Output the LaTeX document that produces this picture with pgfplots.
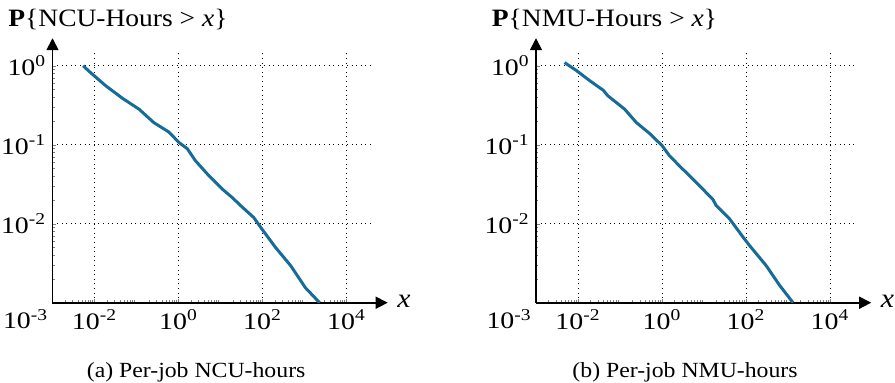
\documentclass[border=0pt]{standalone}
\usepackage{pgfplots}
\pgfplotsset{compat=1.18}
\usepackage{fontspec}
\setmainfont[FakeStretch=1.1]{Liberation Serif}
\newfontfamily\tickfont[FakeStretch=1.18]{Liberation Serif}
\usetikzlibrary{arrows.meta}
\definecolor{cblue}{RGB}{22,108,150}
\pgfplotsset{
  every axis/.append style={
    scale only axis,
    clip mode=individual,
    width=159.6pt, height=126pt,
    xmin=1e-3, xmax=3.98e4,
    ymin=1e-3, ymax=1.55,
    axis lines=left,
    x axis line style={-{Triangle[length=6pt,width=6pt]}, shorten >=-8pt, line width=0.8pt},
    y axis line style={-{Triangle[length=6pt,width=6pt]}, shorten >=-6.25pt, line width=0.8pt},
    tick align=inside,
    major tick length=2pt, minor tick length=1.2pt,
    xtick={1e-2,1,1e2,1e4},
    xticklabels={10\textsuperscript{-2},10\textsuperscript{0},10\textsuperscript{2},10\textsuperscript{4}},
    ytick={1e-2,1e-1,1},
    yticklabels={10\textsuperscript{-2},10\textsuperscript{-1},10\textsuperscript{0}},
    minor xtick={2e-3,3e-3,4e-3,5e-3,6e-3,7e-3,8e-3,9e-3,
                 2e-2,3e-2,4e-2,5e-2,6e-2,7e-2,8e-2,9e-2,
                 0.2,0.3,0.4,0.5,0.6,0.7,0.8,0.9,
                 2,3,4,5,6,7,8,9,
                 20,30,40,50,60,70,80,90,
                 200,300,400,500,600,700,800,900,
                 2000,3000,4000,5000,6000,7000,8000,9000},
    minor ytick={2e-3,3e-3,4e-3,5e-3,6e-3,7e-3,8e-3,9e-3,
                 2e-2,3e-2,4e-2,5e-2,6e-2,7e-2,8e-2,9e-2,
                 0.2,0.3,0.4,0.5,0.6,0.7,0.8,0.9},
    ticklabel style={font=\tickfont\fontsize{11.8}{11.8}\selectfont},
    yticklabel style={inner sep=0pt, xshift=-3pt},
    grid=major,
    grid style={black, line width=0.5pt, dash pattern=on 0.5pt off 1.8pt},
    xlabel={\textit{x}},
    xlabel style={at={(axis description cs:1,0)}, anchor=base west, xshift=12.6pt, yshift=-2.15pt, font=\fontsize{13.5}{14}\selectfont, inner sep=0pt},
    title style={at={(axis description cs:0,1)}, anchor=base west, xshift=-22.25pt, yshift=6pt, font=\fontsize{12.5}{14}\selectfont, inner sep=0pt},
  }
}
\begin{document}
\begin{tikzpicture}
\begin{loglogaxis}[at={(0pt,0pt)}, anchor=south west,
  title={\textbf{P}\{NCU-Hours > \textit{x}\}}]
\addplot[cblue, line width=1.5pt] coordinates {
(0.00537,1.0) (0.00741,0.851) (0.0182,0.562) (0.0457,0.389) (0.115,0.282)
(0.257,0.191) (0.589,0.145) (1.02,0.107) (1.62,0.0891) (2.51,0.0631)
(5.25,0.0407) (11.0,0.0275) (19.1,0.0214) (33.1,0.0162) (61.7,0.0120)
(97.7,0.00851) (204,0.00501) (468,0.00295) (1047,0.00155) (2291,0.001)
};
\node[anchor=base, font=\fontsize{10.8}{12}\selectfont, yshift=-37.5pt] at (axis description cs:0.45,0) {(a) Per-job NCU-hours};
\node[anchor=north east, font=\tickfont\fontsize{11.8}{11.8}\selectfont, yshift=-3pt, xshift=-2pt, inner sep=0pt] at (axis description cs:0,0) {10\textsuperscript{-3}};
\end{loglogaxis}
\begin{loglogaxis}[at={(241.75pt,0pt)}, anchor=south west,
  title={\textbf{P}\{NMU-Hours > \textit{x}\}}]
\addplot[cblue, line width=1.5pt] coordinates {
(0.00479,1.096) (0.00912,0.871) (0.0191,0.646) (0.0398,0.490) (0.0513,0.417)
(0.129,0.282) (0.245,0.191) (0.513,0.138) (1.0,0.0977) (1.51,0.0724)
(2.63,0.0537) (6.03,0.0347) (16.2,0.0204) (19.5,0.0170) (40.7,0.0115)
(85.1,0.00676) (123,0.00525) (302,0.00295) (631,0.00166) (1318,0.001)
};
\node[anchor=base, font=\fontsize{10.8}{12}\selectfont, yshift=-37.5pt] at (axis description cs:0.467,0) {(b) Per-job NMU-hours};
\node[anchor=north east, font=\tickfont\fontsize{11.8}{11.8}\selectfont, yshift=-3pt, xshift=-2pt, inner sep=0pt] at (axis description cs:0,0) {10\textsuperscript{-3}};
\end{loglogaxis}
\pgfresetboundingbox
\path[use as bounding box] (-26.25pt,-39.65pt) rectangle (421.25pt,151.35pt);
\end{tikzpicture}
\end{document}
